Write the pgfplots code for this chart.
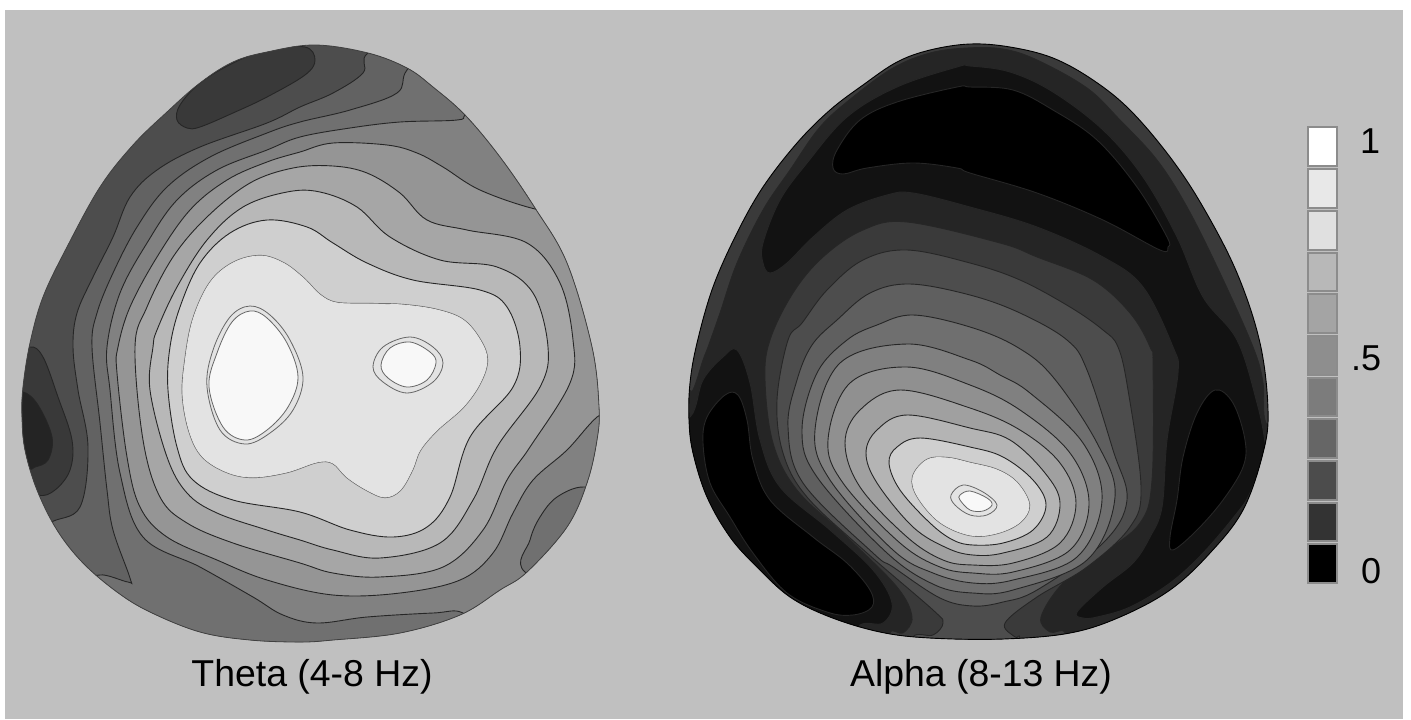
\documentclass[border=0pt]{standalone}
\usepackage{pgfplots}
\pgfplotsset{compat=1.18}
\usepackage{fontspec}
\setmainfont{Liberation Sans}
\definecolor{bgc}{HTML}{C0C0C0}
\definecolor{g4D}{HTML}{4D4D4D}\definecolor{g39}{HTML}{393939}\definecolor{g24}{HTML}{242424}
\definecolor{g62}{HTML}{626262}\definecolor{g70}{HTML}{707070}\definecolor{g81}{HTML}{818181}
\definecolor{g95}{HTML}{959595}\definecolor{gA6}{HTML}{A6A6A6}\definecolor{gB8}{HTML}{B8B8B8}
\definecolor{gCF}{HTML}{CFCFCF}\definecolor{gE3}{HTML}{E3E3E3}\definecolor{gF8}{HTML}{F8F8F8}
\definecolor{g25}{HTML}{252525}\definecolor{g12}{HTML}{121212}\definecolor{g3A}{HTML}{3A3A3A}
\definecolor{g5F}{HTML}{5F5F5F}\definecolor{g6F}{HTML}{6F6F6F}\definecolor{g80}{HTML}{808080}
\definecolor{g90}{HTML}{909090}\definecolor{gA0}{HTML}{A0A0A0}\definecolor{gB4}{HTML}{B4B4B4}
\definecolor{gE8}{HTML}{E8E8E8}\definecolor{gE0}{HTML}{E0E0E0}\definecolor{gA4}{HTML}{A4A4A4}
\definecolor{g8E}{HTML}{8E8E8E}\definecolor{g7C}{HTML}{7C7C7C}\definecolor{g66}{HTML}{666666}
\definecolor{g4C}{HTML}{4C4C4C}\definecolor{g33}{HTML}{333333}
\pgfplotsset{
 z/.style={fill=#1,draw=black!85,line width=0.45pt,smooth cycle,tension=0.6,forget plot},
 zl/.style={fill=#1,draw=black!60,line width=0.4pt,smooth cycle,tension=0.6,forget plot},
 dbl/.style={fill=#1,draw=black!60,line width=1.1pt,smooth cycle,tension=0.6,forget plot,
   postaction={draw=#1,line width=0.42pt}},
 cb/.style={fill=#1,draw=black!45,line width=1pt,sharp plot,forget plot},
}
\begin{document}
\begin{tikzpicture}
\begin{axis}[hide axis,scale only axis,width=705.5pt,height=359.5pt,
 xmin=0,xmax=1411,ymin=0,ymax=719,y dir=reverse,clip=true]
\addplot[fill=white,draw=none,sharp plot,forget plot] coordinates {(0,0)(1411,0)(1411,719)(0,719)} --cycle;
\addplot[fill=bgc,draw=none,sharp plot,forget plot] coordinates {(5,10)(1403,10)(1403,719)(5,719)} --cycle;

% LEFT MAP
\begin{scope}
\clip plot[smooth cycle,tension=0.6] coordinates {(axis cs:315,45)(axis cs:368,53)(axis cs:407,68)(axis cs:433,87)(axis cs:465,115)(axis cs:500,157)(axis cs:535,208)(axis cs:567,263)(axis cs:592,347)(axis cs:599,407)(axis cs:597,440)(axis cs:587,483)(axis cs:567,527)(axis cs:527,572)(axis cs:500,590)(axis cs:460,615)(axis cs:400,633)(axis cs:333,640)(axis cs:300,642)(axis cs:250,640)(axis cs:200,632)(axis cs:150,612)(axis cs:117,592)(axis cs:83,563)(axis cs:57,530)(axis cs:37,490)(axis cs:25,450)(axis cs:22,417)(axis cs:23,387)(axis cs:30,343)(axis cs:43,297)(axis cs:67,247)(axis cs:100,187)(axis cs:133,145)(axis cs:167,112)(axis cs:200,83)(axis cs:233,62)(axis cs:267,52)};
\addplot[z=g4D] coordinates {(315,30)(480,90)(620,300)(620,500)(450,660)(200,660)(30,550)(0,400)(80,200)(200,60)};
% top-left low blob
\addplot[z=g39] coordinates {(305,47)(315,60)(305,75)(267,97)(233,113)(200,127)(187,128)(177,120)(180,105)(200,83)(233,63)(267,50)};
% left low blobs
\addplot[z=g39] coordinates {(30,347)(43,357)(58,397)(72,440)(70,470)(55,490)(38,495)(10,480)(10,360)};
\addplot[z=g24] coordinates {(23,392)(38,405)(52,437)(48,460)(35,467)(28,467)(10,440)(10,400)};
% level 62
\addplot[z=g62] coordinates {(368,53)(363,73)(333,93)(300,107)(267,123)(200,147)(157,170)(130,197)(113,237)(93,277)(77,313)(73,347)(78,390)(88,447)(80,507)(50,523)(30,545)(60,620)(150,680)(350,680)(620,640)(640,400)(620,150)(420,30)};
% level 70
\addplot[z=g70] coordinates {(407,70)(397,93)(350,110)(300,122)(267,133)(210,157)(167,187)(137,227)(113,273)(97,313)(92,347)(100,423)(107,490)(113,530)(130,578)(128,582)(100,575)(88,590)(150,680)(400,680)(630,640)(640,400)(620,150)(440,40)};
% level 80
\addplot[z=g81] coordinates {(466,114)(457,120)(400,122)(350,128)(300,137)(267,150)(217,170)(177,200)(147,243)(120,293)(107,347)(110,390)(120,473)(143,537)(200,567)(253,597)(283,615)(317,623)(367,617)(433,613)(463,613)(490,640)(620,640)(640,400)(620,180)(490,90)};
\addplot[z=g70] coordinates {(525,572)(530,540)(540,517)(557,497)(584,487)(610,500)(600,600)};
% level 90
\addplot[z=g95] coordinates {(535,209)(480,190)(443,167)(417,153)(387,145)(333,143)(300,152)(267,162)(227,180)(190,210)(157,257)(130,307)(118,347)(117,373)(127,457)(140,507)(167,537)(217,560)(267,580)(333,595)(400,593)(460,580)(493,553)(513,513)(533,480)(567,450)(597,417)(625,400)(640,300)(580,215)};
% level a0
\addplot[z=gA6] coordinates {(135,347)(147,307)(173,257)(207,217)(250,183)(293,168)(333,166)(367,173)(400,193)(427,220)(467,230)(527,243)(560,283)(573,340)(570,383)(530,447)(507,480)(483,530)(443,567)(380,577)(333,573)(300,563)(233,543)(187,523)(160,497)(143,440)};
% level b5
\addplot[z=gB8] coordinates {(153,347)(157,330)(177,287)(207,240)(243,207)(287,192)(320,192)(357,207)(390,237)(440,260)(497,267)(533,293)(548,347)(540,387)(497,447)(473,500)(440,543)(380,558)(333,550)(300,540)(267,530)(217,513)(187,493)(167,457)(150,390)};
% level cd
\addplot[z=gCF] coordinates {(170,347)(180,307)(200,263)(230,233)(267,220)(307,227)(333,243)(367,263)(413,280)(480,290)(507,307)(520,347)(513,387)(470,437)(450,497)(427,527)(393,537)(350,530)(300,512)(233,500)(193,480)(177,447)(168,390)};
% level e3
\addplot[dbl=gE3] coordinates {(260,256)(283,263)(303,278)(320,295)(337,303)(370,304)(403,305)(437,310)(463,320)(480,340)(487,360)(480,383)(463,407)(437,430)(420,450)(412,470)(400,490)(385,497)(367,490)(347,477)(333,463)(317,462)(287,472)(253,477)(227,472)(203,457)(190,433)(183,397)(185,363)(193,320)(210,283)(233,263)};
% peaks
\addplot[zl=gE3] coordinates {(250,306)(270,315)(290,340)(303,377)(293,410)(270,433)(245,444)(220,430)(207,387)(213,350)(230,317)};
\addplot[zl=gF8] coordinates {(250,311)(267,318)(287,343)(298,377)(288,407)(267,430)(245,440)(223,427)(209,387)(217,353)(232,322)};
\addplot[zl=gE3] coordinates {(410,337)(433,347)(443,363)(433,382)(407,393)(383,382)(373,367)(383,347)};
\addplot[zl=gF8] coordinates {(410,342)(430,352)(436,363)(427,380)(407,387)(388,378)(381,365)(390,348)};
\end{scope}
\addplot[draw=black!75,line width=0.4pt,smooth cycle,tension=0.6,forget plot] coordinates {(315,45)(368,53)(407,68)(433,87)(465,115)(500,157)(535,208)(567,263)(592,347)(599,407)(597,440)(587,483)(567,527)(527,572)(500,590)(460,615)(400,633)(333,640)(300,642)(250,640)(200,632)(150,612)(117,592)(83,563)(57,530)(37,490)(25,450)(22,417)(23,387)(30,343)(43,297)(67,247)(100,187)(133,145)(167,112)(200,83)(233,62)(267,52)};

% RIGHT MAP
\begin{scope}
\clip plot[smooth cycle,tension=0.6] coordinates {(axis cs:970,44)(axis cs:1010,47)(axis cs:1053,58)(axis cs:1093,80)(axis cs:1130,110)(axis cs:1170,157)(axis cs:1203,207)(axis cs:1237,273)(axis cs:1260,343)(axis cs:1268,410)(axis cs:1263,453)(axis cs:1243,510)(axis cs:1210,553)(axis cs:1170,590)(axis cs:1120,617)(axis cs:1070,633)(axis cs:1003,639)(axis cs:930,638)(axis cs:880,632)(axis cs:830,617)(axis cs:790,597)(axis cs:757,567)(axis cs:730,537)(axis cs:707,497)(axis cs:693,453)(axis cs:689,420)(axis cs:690,383)(axis cs:697,343)(axis cs:713,287)(axis cs:737,233)(axis cs:763,187)(axis cs:797,143)(axis cs:830,110)(axis cs:863,85)(axis cs:897,62)(axis cs:930,50)};
\addplot[fill=g3A,draw=none,sharp plot,forget plot] coordinates {(660,20)(1300,20)(1300,680)(660,680)} --cycle;
\addplot[z=g25] coordinates {(680,410)(693,390)(703,360)(708,347)(720,313)(737,263)(763,210)(790,170)(820,127)(853,97)(893,68)(930,53)(967,48)(1003,49)(1037,60)(1087,88)(1120,120)(1157,160)(1187,207)(1220,273)(1253,347)(1263,383)(1266,423)(1290,440)(1290,660)(680,660)};
\addplot[z=g12] coordinates {(957,67)(970,66)(1010,72)(1053,92)(1103,130)(1143,177)(1177,237)(1203,297)(1237,340)(1257,403)(1265,443)(1263,457)(1250,493)(1237,513)(1203,553)(1170,583)(1130,607)(1097,617)(1083,618)(1077,612)(1103,587)(1133,563)(1150,537)(1162,507)(1167,440)(1178,373)(1173,347)(1143,287)(1103,257)(1037,227)(970,207)(913,193)(887,195)(847,210)(813,237)(787,263)(770,273)(763,263)(763,243)(780,200)(807,163)(847,117)(897,87)};
\addplot[z=g12] coordinates {(737,350)(750,383)(760,440)(780,487)(830,530)(873,570)(892,603)(883,623)(860,625)(840,650)(720,590)(670,450)(693,413)(703,380)(723,357)};
\addplot[z=black] coordinates {(833,168)(837,150)(860,120)(897,102)(957,87)(970,87)(1013,90)(1053,110)(1097,140)(1137,187)(1167,237)(1168,247)(1160,250)(1103,220)(1037,193)(970,173)(957,168)(913,163)(867,168)(843,174)};
\addplot[z=black] coordinates {(1215,390)(1233,403)(1245,440)(1243,467)(1223,500)(1197,530)(1173,550)(1170,537)(1177,500)(1183,457)(1197,413)};
\addplot[z=black] coordinates {(725,395)(738,395)(747,420)(753,460)(770,500)(813,537)(847,563)(870,590)(872,607)(853,615)(827,612)(787,593)(753,553)(730,517)(710,483)(703,443)(707,417)};
\addplot[z=g3A] coordinates {(890,633)(903,633)(912,617)(897,587)(847,537)(797,490)(773,443)(765,380)(770,340)(793,293)(823,257)(863,230)(907,222)(1000,243)(1037,257)(1093,280)(1130,313)(1150,347)(1153,367)(1152,480)(1140,523)(1103,553)(1063,583)(1041,617)(1050,632)(1065,633)(1065,670)(890,670)};
\addplot[z=g4D] coordinates {(913,637)(933,635)(943,623)(933,610)(867,553)(807,497)(783,453)(777,400)(788,340)(802,323)(827,290)(863,260)(907,250)(970,263)(1020,280)(1070,307)(1103,330)(1118,347)(1128,390)(1141,487)(1130,527)(1087,567)(1037,597)(1005,623)(1015,637)(1020,638)(1020,670)(913,670)};
\addplot[z=g5F] coordinates {(910,284)(970,295)(1020,313)(1067,340)(1087,370)(1113,450)(1127,500)(1103,543)(1037,590)(1003,602)(973,606)(940,598)(893,567)(873,553)(803,483)(788,427)(797,380)(812,345)(837,320)(870,293)};
\addplot[z=g6F] coordinates {(913,315)(970,327)(1017,347)(1053,377)(1097,443)(1115,497)(1087,560)(1013,590)(973,593)(935,585)(887,553)(817,477)(802,430)(817,373)(847,340)(877,325)};
\addplot[z=g80] coordinates {(907,344)(970,360)(1000,375)(1030,393)(1083,443)(1102,500)(1077,557)(1013,580)(973,583)(933,573)(893,550)(830,480)(815,430)(840,363)};
\addplot[z=g90] coordinates {(907,367)(970,385)(1020,410)(1070,453)(1089,503)(1070,550)(1013,572)(973,573)(940,567)(900,543)(843,483)(828,440)(850,383)};
\addplot[z=gA0] coordinates {(900,390)(970,408)(1020,430)(1060,463)(1076,503)(1060,543)(1013,563)(973,565)(943,560)(907,537)(860,487)(845,443)(860,410)};
\addplot[z=gB4] coordinates {(907,415)(970,428)(1010,440)(1045,473)(1060,503)(1047,537)(1003,553)(973,555)(947,548)(913,527)(877,483)(866,453)(877,430)};
\addplot[z=gCF] coordinates {(920,438)(970,447)(1003,457)(1033,480)(1046,505)(1033,530)(1003,543)(973,545)(953,540)(930,523)(900,490)(889,463)(897,447)};
\addplot[dbl=gE3] coordinates {(927,460)(947,458)(970,463)(997,470)(1017,483)(1029,505)(1020,522)(997,533)(970,535)(940,522)(918,497)(913,477)};
\addplot[zl=gE3] coordinates {(963,485)(983,492)(997,505)(987,515)(970,515)(955,505)(951,495)};
\addplot[zl=gF8] coordinates {(970,491)(987,498)(992,505)(983,511)(970,510)(960,500)(960,495)};
\end{scope}
\addplot[draw=black,line width=0.45pt,smooth cycle,tension=0.6,forget plot] coordinates {(970,44)(1010,47)(1053,58)(1093,80)(1130,110)(1170,157)(1203,207)(1237,273)(1260,343)(1268,410)(1263,453)(1243,510)(1210,553)(1170,590)(1120,617)(1070,633)(1003,639)(930,638)(880,632)(830,617)(790,597)(757,567)(730,537)(707,497)(693,453)(689,420)(690,383)(697,343)(713,287)(737,233)(763,187)(797,143)(830,110)(863,85)(897,62)(930,50)};

% colour scale
\addplot[cb=white] coordinates {(1308,127)(1337,127)(1337,166)(1308,166)} --cycle;
\addplot[cb=gE8] coordinates {(1308,169)(1337,169)(1337,208)(1308,208)} --cycle;
\addplot[cb=gE0] coordinates {(1308,211)(1337,211)(1337,250)(1308,250)} --cycle;
\addplot[cb=gB8] coordinates {(1308,253)(1337,253)(1337,291)(1308,291)} --cycle;
\addplot[cb=gA4] coordinates {(1308,294)(1337,294)(1337,333)(1308,333)} --cycle;
\addplot[cb=g8E] coordinates {(1308,336)(1337,336)(1337,375)(1308,375)} --cycle;
\addplot[cb=g7C] coordinates {(1308,378)(1337,378)(1337,416)(1308,416)} --cycle;
\addplot[cb=g66] coordinates {(1308,419)(1337,419)(1337,458)(1308,458)} --cycle;
\addplot[cb=g4C] coordinates {(1308,461)(1337,461)(1337,500)(1308,500)} --cycle;
\addplot[cb=g33] coordinates {(1308,503)(1337,503)(1337,541)(1308,541)} --cycle;
\addplot[cb=black] coordinates {(1308,544)(1337,544)(1337,583)(1308,583)} --cycle;

\node[font=\fontsize{18}{22}\selectfont] at (axis cs:1370,141) {1};
\node[font=\fontsize{18}{22}\selectfont] at (axis cs:1366,358) {.5};
\node[font=\fontsize{18}{22}\selectfont] at (axis cs:1371,571) {0};
\node[font=\fontsize{18.7}{22}\selectfont] at (axis cs:312,677) {Theta (4-8 Hz)};
\node[font=\fontsize{18.7}{22}\selectfont] at (axis cs:981,677) {Alpha (8-13 Hz)};
\end{axis}
\end{tikzpicture}
\end{document}
